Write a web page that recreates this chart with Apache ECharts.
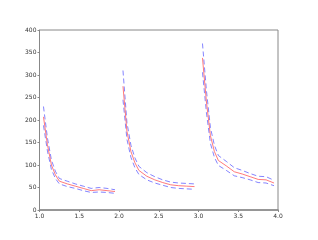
<!DOCTYPE html>
<html><head><meta charset="utf-8">
<script src="https://cdn.jsdelivr.net/npm/echarts@6/dist/echarts.min.js"></script>
<style>html,body{margin:0;padding:0;background:#fff}#c{width:318px;height:240px}</style>
</head><body><div id="c"></div>
<script>
const xs1 = [1.05,1.1,1.15,1.2,1.25,1.35,1.45,1.55,1.65,1.75,1.85,1.95];
const xs2 = [2.05,2.1,2.15,2.2,2.25,2.35,2.45,2.55,2.65,2.75,2.85,2.95];
const xs3 = [3.05,3.1,3.15,3.2,3.25,3.35,3.45,3.55,3.65,3.75,3.85,3.95];
const mid1 = [207,145,100,78,64,58,53,48,43,45,43,41];
const up1  = [230,160,111,86,70,64,58,53,48,50,48,45];
const lo1  = [188,131,90,70,58,52,48,43,39,40,39,37];
const mid2 = [275,175,130,105,88,75,67,61,56,54,53,52];
const up2  = [310,194,144,116,97,83,74,67,62,60,59,58];
const lo2  = [245,157,117,94,79,67,60,55,50,48,47,46];
const mid3 = [338,240,165,130,110,98,85,80,74,68,67,60];
const up3  = [370,265,183,144,121,108,94,88,81,75,74,66];
const lo3  = [306,216,148,117,99,88,76,72,67,61,60,54];

const pair = (xs, ys) => xs.map((x, i) => [x, ys[i]]);
const chart = echarts.init(document.getElementById('c'), null, {renderer: 'canvas'});
const series = [];
[[xs1, mid1, up1, lo1], [xs2, mid2, up2, lo2], [xs3, mid3, up3, lo3]].forEach(([xs, m, u, l]) => {
  series.push({type: 'line', data: pair(xs, u), symbol: 'none', lineStyle: {color: 'rgba(80,80,255,0.7)', width: 1, type: [5, 3]}, z: 2});
  series.push({type: 'line', data: pair(xs, l), symbol: 'none', lineStyle: {color: 'rgba(80,80,255,0.7)', width: 1, type: [5, 3]}, z: 2});
  series.push({type: 'line', data: pair(xs, m), symbol: 'none', lineStyle: {color: 'rgba(255,90,90,0.8)', width: 1}, z: 3});
});
const lab = {fontSize: 6, color: '#333', fontFamily: 'DejaVu Sans', margin: 3};
chart.setOption({
  animation: false,
  grid: {left: 39.5, right: 40, top: 30, bottom: 30, show: true, borderColor: '#888', borderWidth: 1},
  xAxis: {type: 'value', min: 1, max: 4, interval: 0.5,
    axisLine: {show: true, lineStyle: {color: '#888', width: 1.5}},
    axisTick: {show: true, length: 2, lineStyle: {color: '#888'}},
    splitLine: {show: false},
    axisLabel: Object.assign({formatter: v => v.toFixed(1)}, lab)},
  yAxis: {type: 'value', min: 0, max: 400, interval: 50,
    axisLine: {show: true, lineStyle: {color: '#888', width: 1}},
    axisTick: {show: true, length: 2, lineStyle: {color: '#888'}},
    splitLine: {show: false},
    axisLabel: lab},
  series
});
</script></body></html>
